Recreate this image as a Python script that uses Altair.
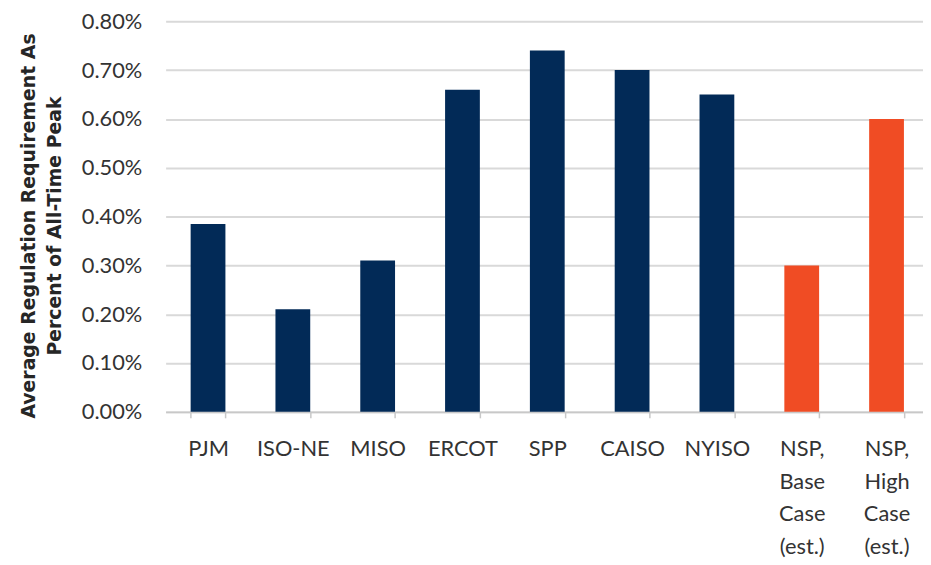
import altair as alt
import pandas as pd

categories = ["PJM", "ISO-NE", "MISO", "ERCOT", "SPP", "CAISO", "NYISO",
              "NSP,|Base|Case|(est.)", "NSP,|High|Case|(est.)"]
values = [0.385, 0.21, 0.31, 0.66, 0.74, 0.70, 0.65, 0.30, 0.60]
groups = ["ISO", "ISO", "ISO", "ISO", "ISO", "ISO", "ISO", "NSP", "NSP"]
y_ticks = [0.0, 0.1, 0.2, 0.3, 0.4, 0.5, 0.6, 0.7, 0.8]
title_lines = ["Average Regulation Requirement As", "Percent of All-Time Peak"]

df = pd.DataFrame({"cat": categories, "val": values, "grp": groups})

FONT = "Lato"

chart = alt.Chart(df).mark_bar().encode(
    x=alt.X("cat:N", sort=categories,
            scale=alt.Scale(paddingInner=0.59, paddingOuter=0.295, range=[0, 770]),
            axis=alt.Axis(title=None, labelAngle=0, tickBand="extent",
                          labelExpr="isValid(datum.value) ? split(datum.value, '|') : ''",
                          labelFont=FONT, labelFontSize=22, labelColor="#333333",
                          labelLineHeight=33, labelPadding=21, labelOverlap=False,
                          labelLimit=200, labelBound=False,
                          domainColor="#c8c8c8", domainWidth=2,
                          tickColor="#c8c8c8", tickSize=6, tickWidth=1.5,
                          grid=False)),
    y=alt.Y("val:Q", scale=alt.Scale(domain=[0, 0.8], nice=False),
            axis=alt.Axis(title=title_lines, values=y_ticks,
                          labelExpr="format(datum.value, '.2f') + '%'",
                          labelFont=FONT, labelFontSize=22, labelColor="#333333",
                          labelPadding=24, domain=False, ticks=False,
                          gridColor="#d9d9d9", gridWidth=2,
                          titleFont="DejaVu Sans", titleFontSize=19, titleFontWeight="bold",
                          titleColor="#262626", titleLineHeight=26,
                          titleAngle=270, titleX=-138, titleY=206,
                          titleAlign="center", titleBaseline="middle")),
    color=alt.Color("grp:N", scale=alt.Scale(domain=["ISO", "NSP"],
                                              range=["#022a57", "#f04c24"]),
                    legend=None),
).properties(
    width=764, height=394,
    autosize=alt.AutoSizeParams(type="none"),
    padding={"left": 159, "top": 11, "right": 0, "bottom": 145},
).configure_view(stroke=None)

chart.save("out.html", embed_options={"renderer": "svg", "actions": False})
